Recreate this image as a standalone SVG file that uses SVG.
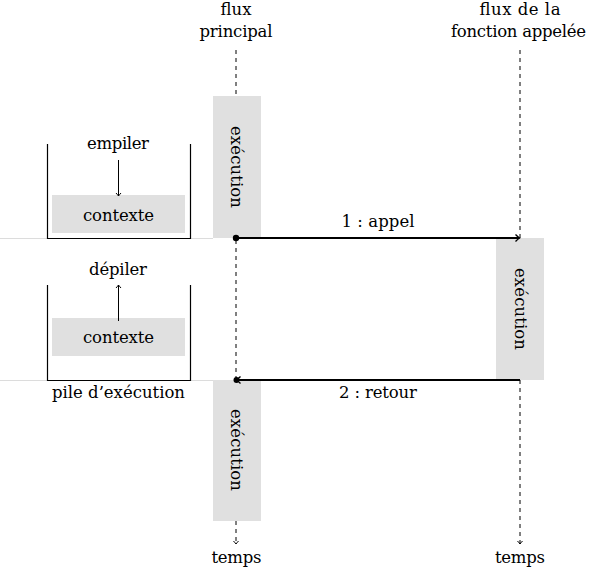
<svg xmlns="http://www.w3.org/2000/svg" width="589" height="568" viewBox="0 0 589 568">
<style>
text{font-family:"DejaVu Serif","Liberation Serif",serif;font-size:16.5px;fill:#000;text-anchor:middle}
.exec{fill:#e0e0e0}
.dash{stroke:#000;stroke-width:1;stroke-dasharray:4 4;fill:none}
.sep{stroke:#dcdcdc;stroke-width:1}
.stack{stroke:#000;stroke-width:1.2;fill:none}
.thin{stroke:#000;stroke-width:1;fill:none}
.main{stroke:#000;stroke-width:1.8;fill:none}
</style>
<defs>
<marker id="tip" markerUnits="userSpaceOnUse" viewBox="-6 -5 8 10" refX="0" refY="0" markerWidth="8" markerHeight="10" orient="auto">
<path d="M-4,-3.5 Q-1.5,-1 0,0 Q-1.5,1 -4,3.5" fill="none" stroke="#000" stroke-width="1.4"/>
</marker>
<marker id="tipS" markerUnits="userSpaceOnUse" viewBox="-6 -5 8 10" refX="0" refY="0" markerWidth="8" markerHeight="10" orient="auto">
<path d="M-3,-2.5 Q-1,-0.7 0,0 Q-1,0.7 -3,2.5" fill="none" stroke="#000" stroke-width="1"/>
</marker>
</defs>
<g id="separators">
<line class="sep" x1="0" y1="238.5" x2="213" y2="238.5"/>
<line class="sep" x1="0" y1="380.5" x2="213" y2="380.5"/>
</g>
<g id="titles">
<text x="236" y="15" textLength="31">flux</text>
<text x="236" y="37" textLength="73">principal</text>
<text x="520" y="15" textLength="81">flux de la</text>
<text x="518.5" y="37" textLength="135">fonction appelée</text>
</g>
<g id="exec1"><rect class="exec" x="213" y="96" width="48" height="142"/>
<text x="236" y="167" dominant-baseline="central" transform="rotate(90 236 167)" textLength="82">exécution</text></g>
<g id="exec2"><rect class="exec" x="496" y="238" width="48" height="142"/>
<text x="520" y="309" dominant-baseline="central" transform="rotate(90 520 309)" textLength="82">exécution</text></g>
<g id="exec3"><rect class="exec" x="213" y="380" width="48" height="141"/>
<text x="236" y="450" dominant-baseline="central" transform="rotate(90 236 450)" textLength="82">exécution</text></g>
<g id="stack-push">
<polyline class="stack" points="47.5,144 47.5,238.5 190.5,238.5 190.5,144"/>
<text x="118" y="149" textLength="62">empiler</text>
<rect class="exec" x="52" y="195" width="133" height="38"/>
<text x="118.5" y="221" textLength="71">contexte</text>
</g>
<g id="stack-pop">
<polyline class="stack" points="47.5,285 47.5,380.5 190.5,380.5 190.5,285"/>
<text x="118" y="275" textLength="58">dépiler</text>
<rect class="exec" x="52" y="318" width="133" height="38"/>
<text x="118.5" y="343" textLength="71">contexte</text>
<text x="118.5" y="398" textLength="133">pile d’exécution</text>
</g>
<g id="connectors">
<line class="dash" x1="236" y1="50" x2="236" y2="96"/>
<line class="dash" x1="236" y1="240" x2="236" y2="378"/>
<line class="dash" x1="236" y1="521" x2="236" y2="544" marker-end="url(#tipS)"/>
<line class="dash" x1="520" y1="50" x2="520" y2="238"/>
<line class="dash" x1="520" y1="380" x2="520" y2="544" marker-end="url(#tipS)"/>
<line class="thin" x1="118.5" y1="160" x2="118.5" y2="196" marker-end="url(#tipS)"/>
<line class="thin" x1="118.5" y1="321" x2="118.5" y2="285" marker-end="url(#tipS)"/>
<circle cx="236" cy="238" r="3.2" fill="#000"/>
<line class="main" x1="236" y1="238" x2="519.5" y2="238" marker-end="url(#tip)"/>
<circle cx="236.5" cy="380" r="3" fill="#000"/>
<line class="main" x1="520" y1="380" x2="236.5" y2="380" marker-end="url(#tip)"/>
<text x="378" y="227" textLength="73">1 : appel</text>
<text x="378" y="398" textLength="78">2 : retour</text>
</g>
<g id="time">
<text x="236.5" y="563" textLength="50">temps</text>
<text x="520" y="563" textLength="50">temps</text>
</g>
</svg>
